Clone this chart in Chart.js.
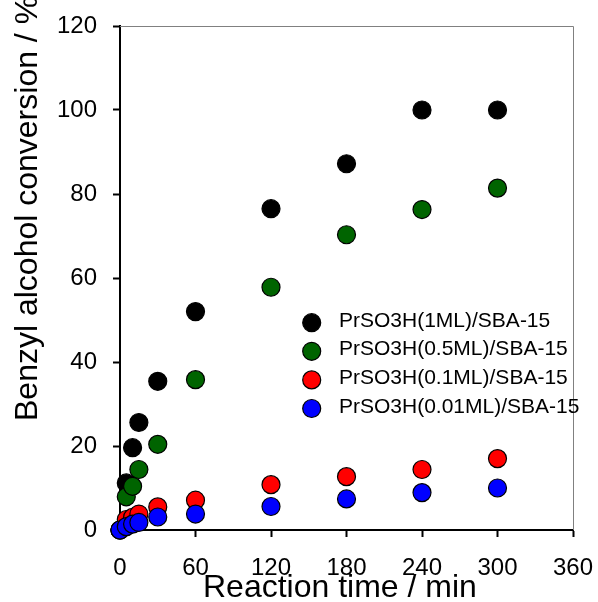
<!DOCTYPE html>
<html>
<head>
<meta charset="utf-8">
<script src="https://cdn.jsdelivr.net/npm/chart.js@4.4.1/dist/chart.umd.min.js"></script>
<style>
  body { margin: 0; background: #fff; }
  #wrap { width: 598px; height: 602px; }
</style>
</head>
<body>
<div id="wrap"><canvas id="chart" width="598" height="602"></canvas></div>
<script>
const FONT = "'Liberation Sans', Arial, sans-serif";

// reaction time (min)
const times = [0, 5, 10, 15, 30, 60, 120, 180, 240, 300];

// conversion (%)
const conv1ML   = [0, 11.2, 19.6, 25.6, 35.4, 52.0, 76.5, 87.2, 100, 100];
const conv05ML  = [0, 7.9, 10.4, 14.4, 20.4, 35.8, 57.8, 70.3, 76.3, 81.4];
const conv01ML  = [0, 2.5, 3.0, 3.8, 5.5, 7.1, 10.8, 12.7, 14.4, 17.0];
const conv001ML = [0, 0.8, 1.4, 1.8, 3.1, 3.8, 5.6, 7.4, 8.9, 10.0];

const seriesLabels = ['PrSO3H(1ML)/SBA-15', 'PrSO3H(0.5ML)/SBA-15', 'PrSO3H(0.1ML)/SBA-15', 'PrSO3H(0.01ML)/SBA-15'];
const seriesColors = ['#000000', '#006400', '#ff0000', '#0000ff'];
const seriesData = [conv1ML, conv05ML, conv01ML, conv001ML];

const xTitle = 'Reaction time / min';
const yTitle = 'Benzyl alcohol conversion / %';

const toPoints = vals => times.map((t, i) => ({ x: t, y: vals[i] }));

// gray top/right frame, legend inside plot, axis titles
const extras = {
    id: 'extras',
    beforeDatasetsDraw(chart) {
        const { ctx, chartArea: a } = chart;
        ctx.save();
        ctx.strokeStyle = '#808080';
        ctx.lineWidth = 1;
        ctx.beginPath();
        ctx.moveTo(a.left, a.top + 0.5);
        ctx.lineTo(a.right + 0.5, a.top + 0.5);
        ctx.lineTo(a.right + 0.5, a.bottom);
        ctx.stroke();
        ctx.restore();
    },
    afterDraw(chart) {
        const ctx = chart.ctx;
        ctx.save();
        // legend
        ctx.font = '21px ' + FONT;
        ctx.textBaseline = 'alphabetic';
        ctx.textAlign = 'left';
        chart.data.datasets.forEach((ds, i) => {
            const cy = 322.7 + i * 28.6;
            ctx.beginPath();
            ctx.arc(311.7, cy, 9, 0, Math.PI * 2);
            ctx.fillStyle = ds.backgroundColor;
            ctx.fill();
            ctx.lineWidth = 1.2;
            ctx.strokeStyle = '#000';
            ctx.stroke();
            ctx.fillStyle = '#000';
            ctx.fillText(ds.label, 339, cy + 4);
        });
        // axis titles
        ctx.font = '32px ' + FONT;
        ctx.fillText(xTitle, 203, 597);
        ctx.translate(37, 421);
        ctx.rotate(-Math.PI / 2);
        ctx.fillText(yTitle, 0, 0);
        ctx.restore();
    }
};

new Chart(document.getElementById('chart'), {
    type: 'scatter',
    data: {
        datasets: seriesData.map((vals, i) => ({
            label: seriesLabels[i],
            data: toPoints(vals),
            backgroundColor: seriesColors[i],
            borderColor: '#000',
            borderWidth: 1.2,
            pointRadius: 9,
            pointHoverRadius: 9,
            order: 4 - i,
            clip: false
        }))
    },
    options: {
        responsive: false,
        animation: false,
        events: [],
        layout: { padding: { left: 0, right: 25, top: 26, bottom: 0 } },
        plugins: { legend: { display: false }, tooltip: { enabled: false } },
        scales: {
            x: {
                type: 'linear', min: 0, max: 360, z: 1,
                afterFit: s => { s.height = 72; s.paddingLeft = 0; s.paddingRight = 0; },
                border: { display: true, color: '#000', width: 2 },
                grid: { drawOnChartArea: false, drawTicks: true, tickLength: 7, tickColor: '#000', tickWidth: 2 },
                ticks: { stepSize: 60, color: '#000', padding: 17, font: { family: FONT, size: 24 }, maxRotation: 0 }
            },
            y: {
                min: 0, max: 120, z: 1,
                afterFit: s => { s.width = 120; s.paddingTop = 0; s.paddingBottom = 0; },
                border: { display: true, color: '#000', width: 2 },
                grid: { drawOnChartArea: false, drawTicks: true, tickLength: 7, tickColor: '#000', tickWidth: 2 },
                ticks: { stepSize: 20, color: '#000', padding: 16, font: { family: FONT, size: 24 } }
            }
        }
    },
    plugins: [extras]
});
</script>
</body>
</html>
